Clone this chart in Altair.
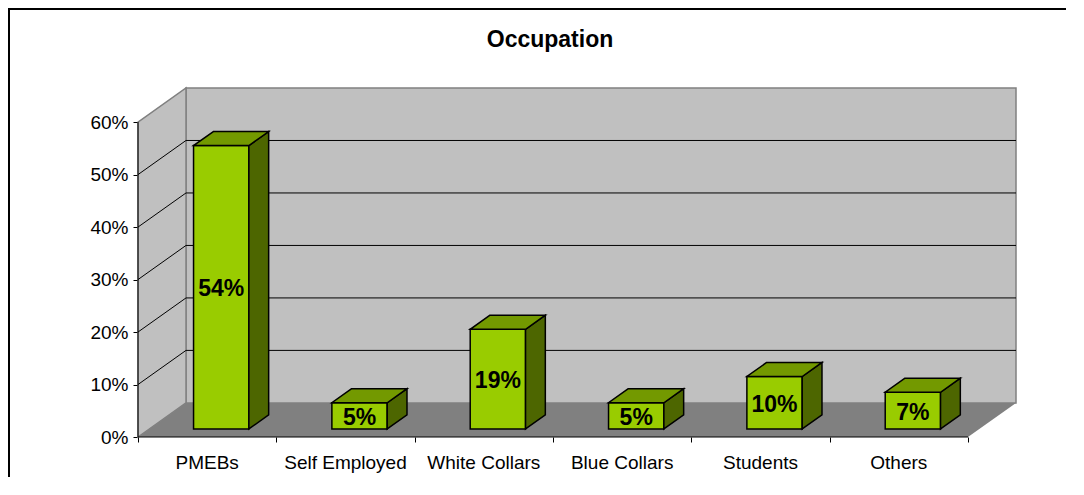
import altair as alt
import pandas as pd

categories = ["PMEBs", "Self Employed", "White Collars", "Blue Collars", "Students", "Others"]
values = [54, 5, 19, 5, 10, 7]
y_ticks = [0, 10, 20, 30, 40, 50, 60]
title_text = "Occupation"

# 3D projection style constants
DX = 0.347            # depth shift along x (category units)
DY = 6.5              # depth shift along y (percent units)
Z0, Z1 = 0.235, 0.647 # bar depth range
BAR_L, BAR_R = 0.32, 0.72
N = len(categories)
YMAX = y_ticks[-1]

FRONT = "#99CC00"
TOP = "#739900"
SIDE = "#4D6600"
WALL = "#C0C0C0"
FLOOR = "#808080"
EDGE = "#808080"
FONT = "Liberation Sans"

xs = alt.Scale(domain=[0, N + DX], nice=False, zero=False)
ys = alt.Scale(domain=[0, YMAX + DY], nice=False, zero=False)

x_axis = alt.Axis(values=list(range(N + 1)), labels=False, domain=False, grid=False,
                  ticks=True, tickSize=5, tickColor="black", title=None)
y_axis = alt.Axis(values=y_ticks, labelExpr="datum.value + '%'", domain=False, grid=False,
                  tickSize=5, tickColor="black", labelFont=FONT, labelFontSize=19,
                  labelColor="black", labelPadding=5, title=None)


def X(f):
    return alt.X(f, scale=xs, axis=x_axis, stack=None)


def Y(f):
    return alt.Y(f, scale=ys, axis=y_axis, stack=None)


# walls and floor
back_df = pd.DataFrame({"x": [DX], "x2": [N + DX], "y": [DY], "y2": [YMAX + DY]})
back = alt.Chart(back_df).mark_rect(fill=WALL, stroke=EDGE, strokeWidth=1.5).encode(
    x=X("x:Q"), x2="x2:Q", y=Y("y:Q"), y2="y2:Q")

side_df = pd.DataFrame({"x": [0, DX], "y": [0, DY], "y2": [YMAX, YMAX + DY]})
side_wall = alt.Chart(side_df).mark_area(fill=WALL, stroke=EDGE, strokeWidth=1.5).encode(
    x=X("x:Q"), y=Y("y:Q"), y2="y2:Q")

floor_df = pd.DataFrame({"y": [0, DY], "x": [0, DX], "x2": [N, N + DX]})
floor = alt.Chart(floor_df).mark_area(orient="horizontal", fill=FLOOR).encode(
    y=Y("y:Q"), x=X("x:Q"), x2="x2:Q")

grid_vals = y_ticks[1:-1]
back_grid_df = pd.DataFrame({"x": [DX] * len(grid_vals), "x2": [N + DX] * len(grid_vals),
                             "y": [g + DY for g in grid_vals]})
back_grid = alt.Chart(back_grid_df).mark_rule(color="black", strokeWidth=1).encode(
    x=X("x:Q"), x2="x2:Q", y=Y("y:Q"))

diag_df = pd.DataFrame({"x": [0] * len(grid_vals), "x2": [DX] * len(grid_vals),
                        "y": grid_vals, "y2": [g + DY for g in grid_vals]})
diag_grid = alt.Chart(diag_df).mark_rule(color="black", strokeWidth=1).encode(
    x=X("x:Q"), x2="x2:Q", y=Y("y:Q"), y2="y2:Q")

# axis lines
xline = alt.Chart(pd.DataFrame({"x": [0], "x2": [N], "y": [0]})).mark_rule(
    color="black", strokeWidth=1).encode(x=X("x:Q"), x2="x2:Q", y=Y("y:Q"))
yline = alt.Chart(pd.DataFrame({"x": [0], "y": [0], "y2": [YMAX]})).mark_rule(
    color="black", strokeWidth=1).encode(x=X("x:Q"), y=Y("y:Q"), y2="y2:Q")

# bars
front_rows, side_rows, top_rows, lab_rows = [], [], [], []
for i, (c, v) in enumerate(zip(categories, values)):
    front_rows.append({"cat": c, "x": i + BAR_L + Z0 * DX, "x2": i + BAR_R + Z0 * DX,
                       "y": Z0 * DY, "y2": v + Z0 * DY})
    for z in (Z0, Z1):
        side_rows.append({"cat": c, "x": i + BAR_R + z * DX, "y": z * DY, "y2": v + z * DY})
        top_rows.append({"cat": c, "y": v + z * DY, "x": i + BAR_L + z * DX,
                         "x2": i + BAR_R + z * DX})
    lab_rows.append({"cat": c, "x": i + (BAR_L + BAR_R) / 2 + Z0 * DX,
                     "y": Z0 * DY + v / 2, "text": f"{v}%"})

front = alt.Chart(pd.DataFrame(front_rows)).mark_rect(
    fill=FRONT, stroke="black", strokeWidth=1.5).encode(
    x=X("x:Q"), x2="x2:Q", y=Y("y:Q"), y2="y2:Q")
sides = alt.Chart(pd.DataFrame(side_rows)).mark_area(
    fill=SIDE, stroke="black", strokeWidth=1.5).encode(
    x=X("x:Q"), y=Y("y:Q"), y2="y2:Q", detail="cat:N")
tops = alt.Chart(pd.DataFrame(top_rows)).mark_area(
    orient="horizontal", fill=TOP, stroke="black", strokeWidth=1.5).encode(
    y=Y("y:Q"), x=X("x:Q"), x2="x2:Q", detail="cat:N")
bar_labels = alt.Chart(pd.DataFrame(lab_rows)).mark_text(
    font=FONT, fontSize=23, fontWeight="bold", color="black", baseline="middle",
    align="center", dy=2).encode(x=X("x:Q"), y=Y("y:Q"), text="text:N")

cat_df = pd.DataFrame({"x": [i + 0.5 for i in range(N)], "y": [0] * N, "text": categories})
cat_labels = alt.Chart(cat_df).mark_text(
    font=FONT, fontSize=19, color="black", baseline="alphabetic", align="center",
    dy=32).encode(x=X("x:Q"), y=Y("y:Q"), text="text:N")

# chart title (placed in the top padding area)
title = alt.Chart(pd.DataFrame({"text": [title_text]})).mark_text(
    font=FONT, fontSize=23, fontWeight="bold", color="black", baseline="alphabetic",
    align="center").encode(x=alt.value(412), y=alt.value(-41), text="text:N")

# outer frame (top and left edges)
frame_top = alt.Chart(pd.DataFrame({"a": [0]})).mark_rule(color="black", strokeWidth=2).encode(
    x=alt.value(-130), x2=alt.value(940), y=alt.value(-79))
frame_left = alt.Chart(pd.DataFrame({"a": [0]})).mark_rule(color="black", strokeWidth=2).encode(
    x=alt.value(-129), y=alt.value(-80), y2=alt.value(400))

chart = alt.layer(
    back, side_wall, floor, back_grid, diag_grid, xline, yline,
    front, sides, tops, bar_labels, cat_labels, title, frame_top, frame_left
).properties(
    width=878, height=349,
    autosize="none",
    padding={"left": 130, "top": 80, "right": 50, "bottom": 40},
    background="white",
).configure_view(stroke=None)

chart.save("out.html", embed_options={"renderer": "svg", "actions": False})
